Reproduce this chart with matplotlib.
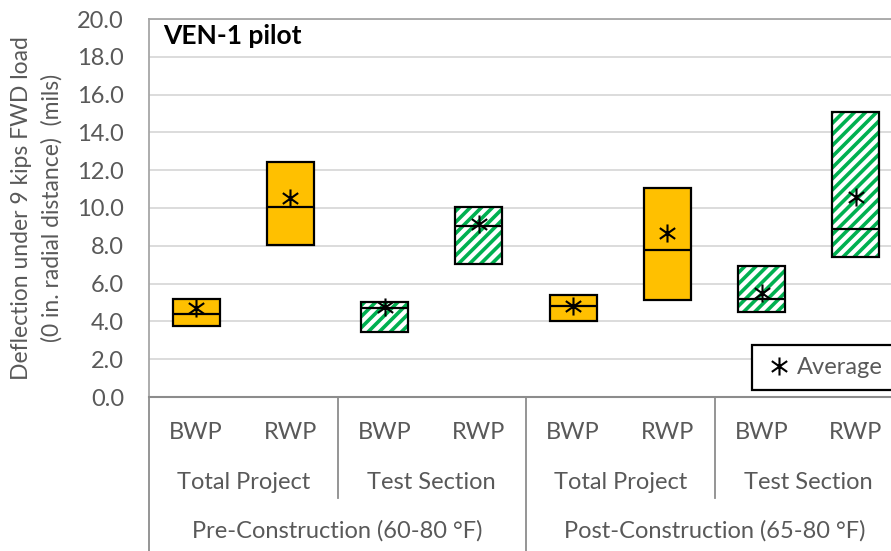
import numpy as np
import matplotlib
matplotlib.use('Agg')
import matplotlib.pyplot as plt
from matplotlib.path import Path

# data (mils)
wheel_path = ['BWP', 'RWP', 'BWP', 'RWP', 'BWP', 'RWP', 'BWP', 'RWP']
section = ['Total Project', 'Test Section', 'Total Project', 'Test Section']
period = ['Pre-Construction (60-80 °F)', 'Post-Construction (65-80 °F)']
box_low = [3.76, 8.04, 3.44, 7.04, 4.04, 5.15, 4.50, 7.43]
box_high = [5.19, 12.43, 5.03, 10.07, 5.38, 11.07, 6.95, 15.10]
median = [4.41, 10.03, 4.69, 9.03, 4.79, 7.76, 5.19, 8.87]
average = [4.69, 10.55, 4.78, 9.15, 4.83, 8.68, 5.49, 10.60]
is_test = [False, False, True, True, False, False, True, True]

plt.rcParams['font.family'] = ['Lato', 'DejaVu Sans']
plt.rcParams['hatch.linewidth'] = 2.6

gray = '#595959'
W, H = 891, 551
fig = plt.figure(figsize=(W / 100, H / 100), dpi=100)
# plot area runs past the right edge of the picture, like the original
ax = fig.add_axes([149 / W, (H - 397) / H, (903 - 149) / W, 378 / H])

x = np.arange(len(wheel_path))
lo = np.array(box_low)
hi = np.array(box_high)

for i in x:
    if is_test[i]:
        ax.bar(i, hi[i] - lo[i], bottom=lo[i], width=0.5, color='white',
               edgecolor='#00B050', hatch='///', linewidth=0, zorder=3)
        ax.bar(i, hi[i] - lo[i], bottom=lo[i], width=0.5, fill=False,
               edgecolor='black', linewidth=1.6, zorder=4)
    else:
        ax.bar(i, hi[i] - lo[i], bottom=lo[i], width=0.5, color='#FFC000',
               edgecolor='black', linewidth=1.6, zorder=3)

ax.hlines(median, x - 0.25, x + 0.25, color='black', linewidth=1.6, zorder=5)

star = Path([(0, -1), (0, 1), (-0.85, -0.6), (0.85, 0.6), (-0.85, 0.6), (0.85, -0.6)],
            [Path.MOVETO, Path.LINETO] * 3)
ax.plot(x, average, linestyle='none', marker=star, markersize=13,
        markeredgewidth=1.5, color='black', zorder=6, label='Average')

ax.set_xlim(-0.5, 7.5)
ax.set_ylim(0, 20)
ax.set_yticks(np.arange(0, 20.1, 2))
ax.set_yticklabels([f'{v:.1f}' for v in np.arange(0, 20.1, 2)])
ax.tick_params(axis='y', length=0, pad=18, labelsize=17, labelcolor=gray)
ax.set_xticks([])
ax.grid(axis='y', color='#d9d9d9', linewidth=1.3, zorder=0)
ax.set_axisbelow(True)
ax.spines['right'].set_visible(False)
ax.spines['top'].set_color('#a6a6a6')
ax.spines['left'].set_color('#a6a6a6')
ax.spines['bottom'].set_color('#8c8c8c')
ax.spines['top'].set_linewidth(1.3)
ax.spines['left'].set_linewidth(1.3)
ax.spines['bottom'].set_linewidth(1.5)

ax.text(0.019, 0.955, 'VEN-1 pilot', transform=ax.transAxes, fontsize=19,
        fontweight='bold', va='center', ha='left')

# multi-level category axis
tr = ax.get_xaxis_transform()
for i, lab in enumerate(wheel_path):
    ax.text(i, -0.095, lab, transform=tr, ha='center', va='center',
            fontsize=17, color=gray)
for j, lab in enumerate(section):
    ax.text(2 * j + 0.5, -0.225, lab, transform=tr, ha='center', va='center',
            fontsize=17, color=gray)
for k, lab in enumerate(period):
    ax.text(4 * k + 1.5, -0.355, lab, transform=tr, ha='center', va='center',
            fontsize=17, color=gray)
for xs, y_end in [(-0.5, -0.45), (1.5, -0.267), (3.5, -0.45), (5.5, -0.267), (7.5, -0.45)]:
    ax.plot([xs, xs], [0, y_end], transform=tr, color='#8c8c8c', linewidth=1.3,
            clip_on=False)

fig.text(37 / W, 1 - 208 / H,
         'Deflection under 9 kips FWD load\n(0 in. radial distance)  (mils)',
         rotation=90, ha='center', va='center', multialignment='center',
         fontsize=16.5, color=gray, linespacing=1.55)

leg = ax.legend(loc='upper left', bbox_to_anchor=(752 / W, 1 - 345 / H),
                bbox_transform=fig.transFigure, borderaxespad=0, fontsize=17,
                handlelength=1.3, handletextpad=0.1, borderpad=0.5,
                fancybox=False, framealpha=1)
leg.get_frame().set_edgecolor('black')
leg.get_frame().set_linewidth(1.6)
for t in leg.get_texts():
    t.set_color(gray)

fig.savefig('out.png', dpi=100)
